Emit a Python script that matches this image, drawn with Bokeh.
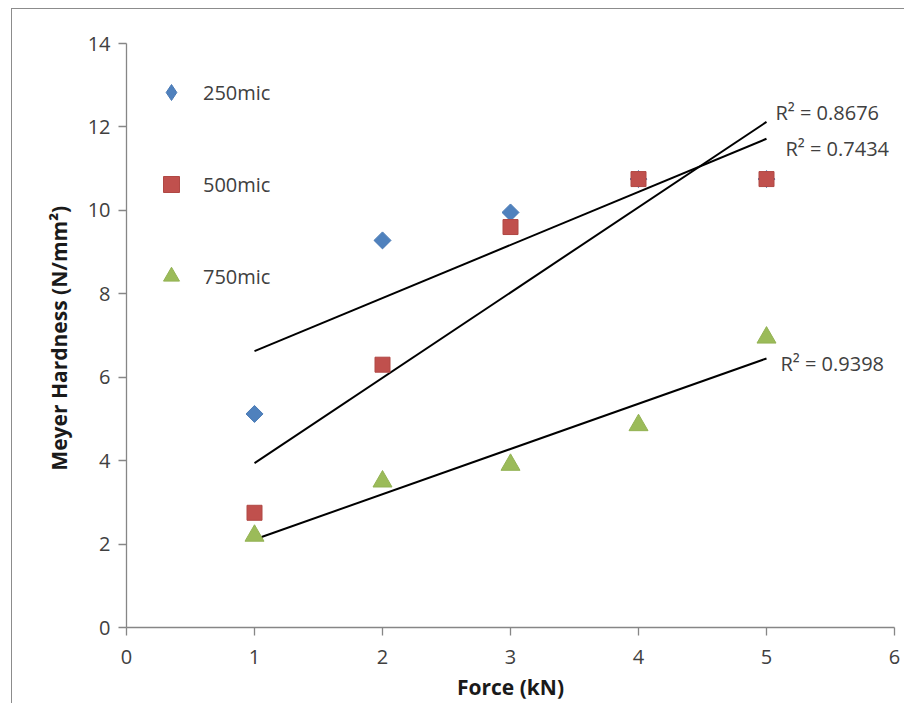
import numpy as np
from bokeh.plotting import figure
from bokeh.models import Legend, LegendItem, FixedTicker, Range1d
from bokeh.embed import file_html
from bokeh.resources import INLINE
from bokeh.core.properties import value

# ---- data ----
force = [1, 2, 3, 4, 5]
h250 = [5.12, 9.28, 9.95, 10.75, 10.75]
h500 = [2.75, 6.30, 9.60, 10.75, 10.75]
h750 = [2.20, 3.50, 3.90, 4.85, 6.95]
series_names = ["250mic", "500mic", "750mic"]
r2_labels = ["R\u00b2 = 0.7434", "R\u00b2 = 0.8676", "R\u00b2 = 0.9398"]
x_ticks = [0, 1, 2, 3, 4, 5, 6]
y_ticks = [0, 2, 4, 6, 8, 10, 12, 14]

FONT = "Open Sans"
TXT = "#404040"
BLUE, RED, GREEN = "#4F81BD", "#C0504D", "#9BBB59"

p = figure(frame_width=768, frame_height=584,
           x_range=Range1d(0, 6), y_range=Range1d(0, 14),
           output_backend="svg", toolbar_location=None,
           min_border_left=114, min_border_top=34, min_border_right=10, min_border_bottom=76)
p.margin = (8, 0, 0, 11)
p.styles = {"border-left": "1px solid #8c8c8c", "border-top": "1px solid #8c8c8c"}
p.outline_line_color = None
p.xgrid.grid_line_color = None
p.ygrid.grid_line_color = None
p.background_fill_color = "white"
p.border_fill_color = "white"

for ax in (p.xaxis[0], p.yaxis[0]):
    ax.axis_line_color = "#868686"
    ax.axis_line_width = 1.3
    ax.major_tick_line_color = "#868686"
    ax.major_tick_line_width = 1.3
    ax.major_tick_out = 8
    ax.major_tick_in = 0
    ax.minor_tick_line_color = None
    ax.major_label_text_font = FONT
    ax.major_label_text_font_size = "20px"
    ax.major_label_text_color = TXT
    ax.axis_label_text_font = FONT
    ax.axis_label_text_font_size = "21px"
    ax.axis_label_text_font_style = "bold"
    ax.axis_label_text_color = "#1a1a1a"

p.xaxis.ticker = FixedTicker(ticks=x_ticks)
p.yaxis.ticker = FixedTicker(ticks=y_ticks)
p.xaxis.axis_label = "Force (kN)"
p.yaxis.axis_label = "Meyer Hardness  (N/mm\u00b2)"
p.xaxis.major_label_standoff = 14
p.yaxis.major_label_standoff = 8
p.xaxis.axis_label_standoff = 6
p.yaxis.axis_label_standoff = 12

# ---- trend lines (least squares from the data) ----
xs = np.array(force, dtype=float)
fits = []
for ys in (h250, h500, h750):
    k, b = np.polyfit(xs, np.array(ys), 1)
    fits.append((k, b))
    xe = np.array([xs.min(), xs.max()])
    p.line(xe, k * xe + b, line_color="black", line_width=2)

# ---- markers ----
r1 = p.scatter(force, h250, marker="square", angle=np.pi / 4, size=12,
               fill_color=BLUE, line_color="#4A7AB5")
r2 = p.scatter(force, h500, marker="square", size=15,
               fill_color=RED, line_color="#B04844")
r3 = p.scatter(force, h750, marker="triangle", size=19,
               fill_color=GREEN, line_color="#93B254")

# legend swatch for the diamond series (a non-drawn point; legend only)
l1 = p.scatter([np.nan], [np.nan], marker="diamond", fill_color=BLUE, line_color="#4A7AB5")

# ---- R^2 labels next to line ends ----
xend = xs.max()
offs = [(19, -10), (9, 9), (14, -5)]
for (k, b), lab, (dx, dy) in zip(fits, r2_labels, offs):
    p.text(x=[xend], y=[k * xend + b], text=[lab], x_offset=dx, y_offset=-dy,
           text_font=value(FONT), text_font_size="20px", text_color=TXT,
           text_baseline="middle", text_align="left")

legend = Legend(items=[LegendItem(label=series_names[0], renderers=[l1]),
                       LegendItem(label=series_names[1], renderers=[r2]),
                       LegendItem(label=series_names[2], renderers=[r3])],
                location=(25, 331), orientation="vertical",
                glyph_width=40, glyph_height=40, label_height=20,
                label_standoff=12, spacing=52, padding=0, margin=0,
                label_text_font=FONT, label_text_font_size="20px",
                label_text_color=TXT,
                background_fill_alpha=0, border_line_color=None)
p.add_layout(legend)

open("out.html", "w").write(file_html(p, INLINE))
